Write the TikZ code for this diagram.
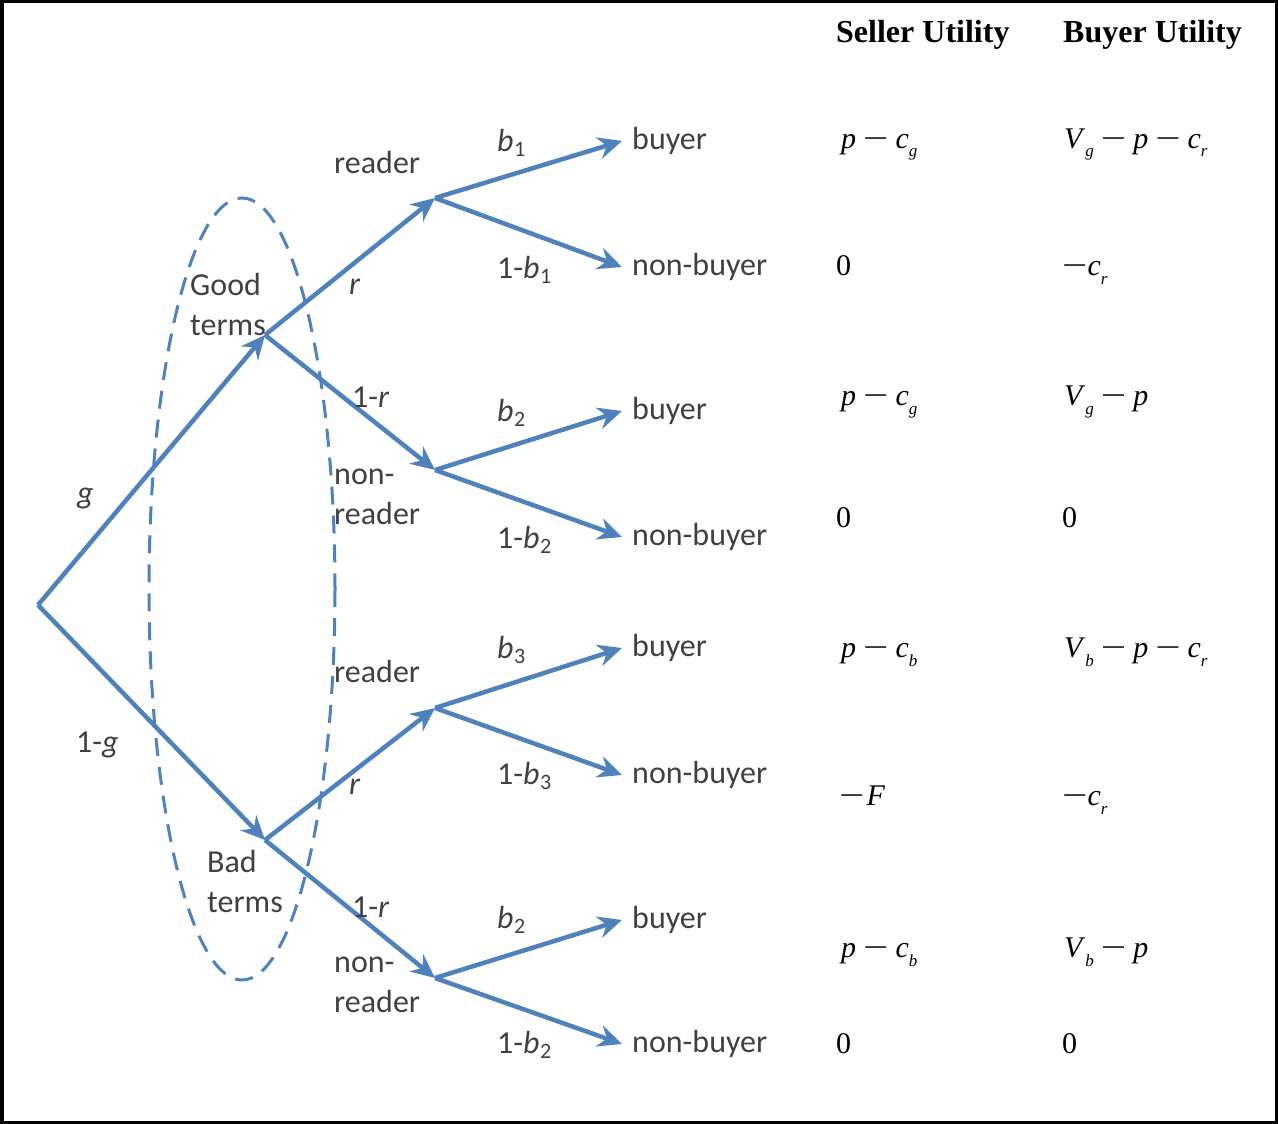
\documentclass[tikz,border=0pt]{standalone}
\usepackage{fontspec}
\setmainfont{Liberation Serif}
\newfontfamily\lblfont{Carlito}
\usetikzlibrary{arrows.meta}
\definecolor{treeblue}{RGB}{79,129,189}
\definecolor{lblgrey}{RGB}{64,64,64}
\newcommand\lsub[1]{\kern0pt\raisebox{-9pt}{\fontsize{17}{17}\selectfont\itshape #1}}
\newcommand\mn{\scalebox{1.5}[1]{−}}
\newcommand\mm{\kern7pt\mn\kern7pt}
\newcommand\bsub[1]{\textit{b}\kern0.5pt\raisebox{-5pt}{\fontsize{22}{22}\selectfont #1}}
\begin{document}
\begin{tikzpicture}[x=1pt,y=-1pt,
  branch/.style={draw=treeblue, line width=4.5pt, -{Stealth[length=24pt,width=22pt,inset=8pt]}},
  lbl/.style={font=\lblfont\fontsize{32}{40}\selectfont, text=lblgrey, inner sep=0pt},
  leaf/.style={lbl, anchor=west, inner xsep=10pt},
  util/.style={font=\fontsize{30}{34}\selectfont, inner sep=0pt, anchor=base west},
  head/.style={font=\bfseries\fontsize{32}{36}\selectfont, inner sep=0pt, anchor=base west}]

\useasboundingbox (0,0) rectangle (1278,1124);
\draw[line width=3.5pt] (1.75,1.75) rectangle (1276.25,1122.25);

% information set
\draw[treeblue, line width=3pt, dash pattern=on 18pt off 11pt] (242,589) ellipse [x radius=93, y radius=391];

% tree points
\coordinate (root) at (38,605);
\coordinate (good) at (265,335);
\coordinate (bad) at (265,840);
\coordinate (gr) at (435,198);
\coordinate (gn) at (435,470);
\coordinate (br) at (435,708);
\coordinate (bn) at (435,978);

% leaves
\node[leaf] (l1) at (622,141) {buyer};
\node[leaf] (l2) at (622,267) {non-buyer};
\node[leaf] (l3) at (622,411) {buyer};
\node[leaf] (l4) at (622,537) {non-buyer};
\node[leaf] (l5) at (622,648) {buyer};
\node[leaf] (l6) at (622,775) {non-buyer};
\node[leaf] (l7) at (622,920) {buyer};
\node[leaf] (l8) at (622,1044) {non-buyer};

% branches
\draw[branch] (root) -- (good);
\draw[branch] (root) -- (bad);
\draw[branch] (good) -- (gr);
\draw[branch] (good) -- (gn);
\draw[branch] (bad) -- (br);
\draw[branch] (bad) -- (bn);
\draw[branch] (gr) -- (l1.west);
\draw[branch] (gr) -- (l2.west);
\draw[branch] (gn) -- (l3.west);
\draw[branch] (gn) -- (l4.west);
\draw[branch] (br) -- (l5.west);
\draw[branch] (br) -- (l6.west);
\draw[branch] (bn) -- (l7.west);
\draw[branch] (bn) -- (l8.west);

% branch labels
\node[lbl, anchor=west] (gl) at (77,498) {\itshape g};
\node[lbl, anchor=west] (ngl) at (76,745) {1-\textit{g}};
\node[lbl, anchor=west, align=left] (goodlbl) at (190,305) {Good\\terms};
\node[lbl, anchor=west, align=left] (badlbl) at (207,882) {Bad\\terms};
\node[lbl, anchor=west] (rd1) at (334,163) {reader};
\node[lbl, anchor=west] (rd2) at (334,672) {reader};
\node[lbl, anchor=west, align=left] (nr1) at (334,497) {non-\\reader};
\node[lbl, anchor=west, align=left] (nr2) at (334,985) {non-\\reader};
\node[lbl, anchor=west] (r1) at (349,287) {\itshape r};
\node[lbl, anchor=west] (nr1p) at (352,397) {1-\textit{r}};
\node[lbl, anchor=west] (r2) at (349,787) {\itshape r};
\node[lbl, anchor=west] (nr2p) at (352,907) {1-\textit{r}};
\node[lbl, anchor=west] (b1) at (497,143) {\bsub{1}};
\node[lbl, anchor=west] (nb1) at (497,270) {1-\bsub{1}};
\node[lbl, anchor=west] (b2) at (497,413) {\bsub{2}};
\node[lbl, anchor=west] (nb2) at (497,540) {1-\bsub{2}};
\node[lbl, anchor=west] (b3) at (497,650) {\bsub{3}};
\node[lbl, anchor=west] (nb3) at (497,776) {1-\bsub{3}};
\node[lbl, anchor=west] (b4) at (497,920) {\bsub{2}};
\node[lbl, anchor=west] (nb4) at (497,1045) {1-\bsub{2}};

% headers
\node[head] (sh) at (836,43) {Seller Utility};
\node[head] (bh) at (1063,43) {Buyer Utility};

% utilities
\node[util] (s1) at (841,148) {\textit{p}\mm\textit{c}\lsub{g}};
\node[util] (u1) at (1064,148) {\textit{V}\lsub{g}\mm\textit{p}\mm\textit{c}\lsub{r}};
\node[util] (s2) at (836,275) {0};
\node[util] (u2) at (1062,275) {\mn\textit{c}\lsub{r}};
\node[util] (s3) at (841,405) {\textit{p}\mm\textit{c}\lsub{g}};
\node[util] (u3) at (1064,405) {\textit{V}\lsub{g}\mm\textit{p}};
\node[util] (s4) at (836,527) {0};
\node[util] (u4) at (1062,527) {0};
\node[util] (s5) at (841,657) {\textit{p}\mm\textit{c}\lsub{b}};
\node[util] (u5) at (1064,657) {\textit{V}\lsub{b}\mm\textit{p}\mm\textit{c}\lsub{r}};
\node[util] (s6) at (839,805) {\mn\kern2pt\textit{F}};
\node[util] (u6) at (1062,805) {\mn\textit{c}\lsub{r}};
\node[util] (s7) at (841,957) {\textit{p}\mm\textit{c}\lsub{b}};
\node[util] (u7) at (1064,957) {\textit{V}\lsub{b}\mm\textit{p}};
\node[util] (s8) at (836,1053) {0};
\node[util] (u8) at (1062,1053) {0};
\end{tikzpicture}
\end{document}
